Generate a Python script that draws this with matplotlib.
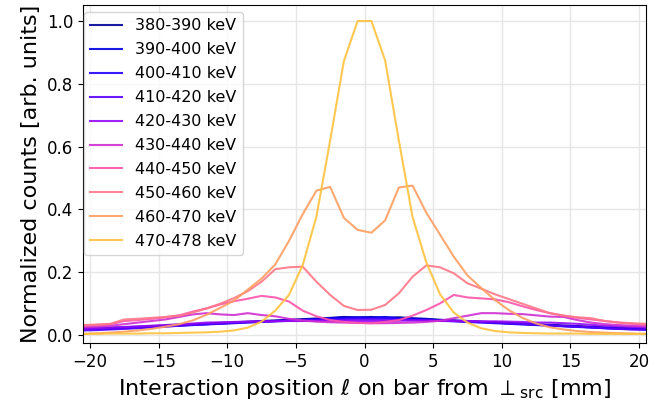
import numpy as np
import matplotlib
matplotlib.use("Agg")
import matplotlib.pyplot as plt

# Bin centres along the bar [mm]
position = np.arange(-20.5, 21.0, 1.0)

energy_bins = ["380-390 keV", "390-400 keV", "400-410 keV", "410-420 keV",
               "420-430 keV", "430-440 keV", "440-450 keV", "450-460 keV",
               "460-470 keV", "470-478 keV"]

counts_380_390 = [0.022, 0.023, 0.024, 0.025, 0.027, 0.029, 0.031, 0.033, 0.035, 0.037, 0.039,
                  0.041, 0.043, 0.045, 0.047, 0.049, 0.051, 0.053, 0.055, 0.058, 0.056,
                  0.058, 0.055, 0.057, 0.054, 0.052, 0.049, 0.047, 0.045, 0.043, 0.041,
                  0.039, 0.037, 0.035, 0.033, 0.031, 0.029, 0.027, 0.025, 0.023, 0.022, 0.021]
counts_390_400 = [0.020, 0.021, 0.022, 0.023, 0.025, 0.027, 0.029, 0.031, 0.033, 0.035, 0.037,
                  0.039, 0.041, 0.043, 0.045, 0.047, 0.049, 0.051, 0.054, 0.056, 0.057,
                  0.056, 0.058, 0.054, 0.052, 0.050, 0.048, 0.046, 0.044, 0.042, 0.040,
                  0.037, 0.035, 0.033, 0.031, 0.029, 0.027, 0.025, 0.023, 0.021, 0.020, 0.019]
counts_400_410 = [0.018, 0.019, 0.020, 0.022, 0.024, 0.026, 0.028, 0.030, 0.032, 0.034, 0.036,
                  0.038, 0.040, 0.042, 0.044, 0.046, 0.048, 0.050, 0.052, 0.053, 0.055,
                  0.054, 0.055, 0.052, 0.050, 0.048, 0.046, 0.044, 0.042, 0.040, 0.038,
                  0.036, 0.034, 0.032, 0.030, 0.028, 0.026, 0.024, 0.022, 0.020, 0.019, 0.018]
counts_410_420 = [0.015, 0.016, 0.018, 0.020, 0.022, 0.025, 0.027, 0.030, 0.033, 0.035, 0.037,
                  0.040, 0.042, 0.043, 0.045, 0.046, 0.047, 0.048, 0.048, 0.049, 0.050,
                  0.050, 0.049, 0.049, 0.048, 0.047, 0.046, 0.045, 0.043, 0.041, 0.040,
                  0.038, 0.036, 0.034, 0.031, 0.029, 0.027, 0.025, 0.022, 0.020, 0.018, 0.017]
counts_420_430 = [0.020, 0.022, 0.024, 0.026, 0.028, 0.030, 0.032, 0.035, 0.037, 0.040, 0.041,
                  0.042, 0.043, 0.044, 0.044, 0.045, 0.045, 0.045, 0.045, 0.045, 0.045,
                  0.045, 0.045, 0.046, 0.046, 0.046, 0.045, 0.045, 0.045, 0.044, 0.044,
                  0.043, 0.042, 0.040, 0.040, 0.038, 0.036, 0.033, 0.030, 0.028, 0.026, 0.024]
counts_430_440 = [0.025, 0.027, 0.030, 0.035, 0.040, 0.045, 0.050, 0.058, 0.066, 0.070, 0.066,
                  0.064, 0.070, 0.064, 0.060, 0.052, 0.047, 0.043, 0.041, 0.040, 0.039,
                  0.038, 0.038, 0.039, 0.040, 0.042, 0.046, 0.054, 0.062, 0.070, 0.070,
                  0.068, 0.067, 0.063, 0.059, 0.058, 0.048, 0.040, 0.035, 0.032, 0.030, 0.028]
counts_440_450 = [0.030, 0.032, 0.035, 0.045, 0.048, 0.052, 0.057, 0.063, 0.075, 0.085, 0.098,
                  0.108, 0.116, 0.125, 0.120, 0.107, 0.078, 0.060, 0.048, 0.042, 0.039,
                  0.038, 0.042, 0.048, 0.062, 0.080, 0.101, 0.128, 0.120, 0.117, 0.114,
                  0.105, 0.092, 0.080, 0.070, 0.062, 0.055, 0.050, 0.045, 0.040, 0.036, 0.033]
counts_450_460 = [0.032, 0.034, 0.036, 0.050, 0.052, 0.055, 0.058, 0.062, 0.072, 0.085, 0.100,
                  0.118, 0.140, 0.170, 0.210, 0.216, 0.218, 0.170, 0.128, 0.093, 0.080,
                  0.081, 0.096, 0.133, 0.186, 0.222, 0.216, 0.197, 0.165, 0.148, 0.130,
                  0.115, 0.100, 0.085, 0.070, 0.062, 0.057, 0.054, 0.045, 0.040, 0.038, 0.036]
counts_460_470 = [0.004, 0.006, 0.008, 0.011, 0.015, 0.020, 0.027, 0.035, 0.047, 0.065, 0.087,
                  0.110, 0.145, 0.180, 0.225, 0.300, 0.385, 0.460, 0.472, 0.373, 0.335,
                  0.326, 0.365, 0.470, 0.476, 0.390, 0.320, 0.250, 0.190, 0.150, 0.112,
                  0.080, 0.055, 0.037, 0.025, 0.018, 0.013, 0.010, 0.008, 0.006, 0.005, 0.004]
counts_470_478 = [0.004, 0.004, 0.005, 0.005, 0.005, 0.006, 0.006, 0.007, 0.008, 0.009, 0.011,
                  0.015, 0.024, 0.043, 0.078, 0.128, 0.223, 0.378, 0.620, 0.873, 1.000,
                  1.000, 0.875, 0.620, 0.376, 0.232, 0.130, 0.072, 0.040, 0.022, 0.013,
                  0.009, 0.007, 0.006, 0.005, 0.005, 0.005, 0.004, 0.004, 0.004, 0.004, 0.004]

all_counts = [counts_380_390, counts_390_400, counts_400_410, counts_410_420,
              counts_420_430, counts_430_440, counts_440_450, counts_450_460,
              counts_460_470, counts_470_478]

colors = plt.cm.gnuplot2(np.linspace(0.15, 0.8, len(energy_bins)))

fig = plt.figure(figsize=(6.49, 4.01), dpi=100)
ax = fig.add_axes([83 / 649, 58 / 401, 563 / 649, 338 / 401])

for label, counts, color in zip(energy_bins, all_counts, colors):
    ax.plot(position, counts, color=color, lw=1.5, alpha=0.9, label=label)

ax.set_xlim(-20.5, 20.5)
ax.set_ylim(-0.025, 1.051)
ax.set_xticks([-20, -15, -10, -5, 0, 5, 10, 15, 20])
ax.set_yticks([0.0, 0.2, 0.4, 0.6, 0.8, 1.0])
ax.grid(True, color="#e6e6e6", lw=1.0)
ax.set_axisbelow(True)
ax.tick_params(labelsize=12)

ax.set_xlabel(r"Interaction position $\ell$ on bar from $\perp_{\rm src}$ [mm]", fontsize=16)
ax.set_ylabel("Normalized counts [arb. units]", fontsize=16)

ax.legend(loc="upper left", fontsize=11.5, framealpha=0.8, borderaxespad=0.0,
          labelspacing=0.56, bbox_to_anchor=(84 / 649, 1 - 12 / 401),
          bbox_transform=fig.transFigure)

fig.savefig("out.png", dpi=100)
